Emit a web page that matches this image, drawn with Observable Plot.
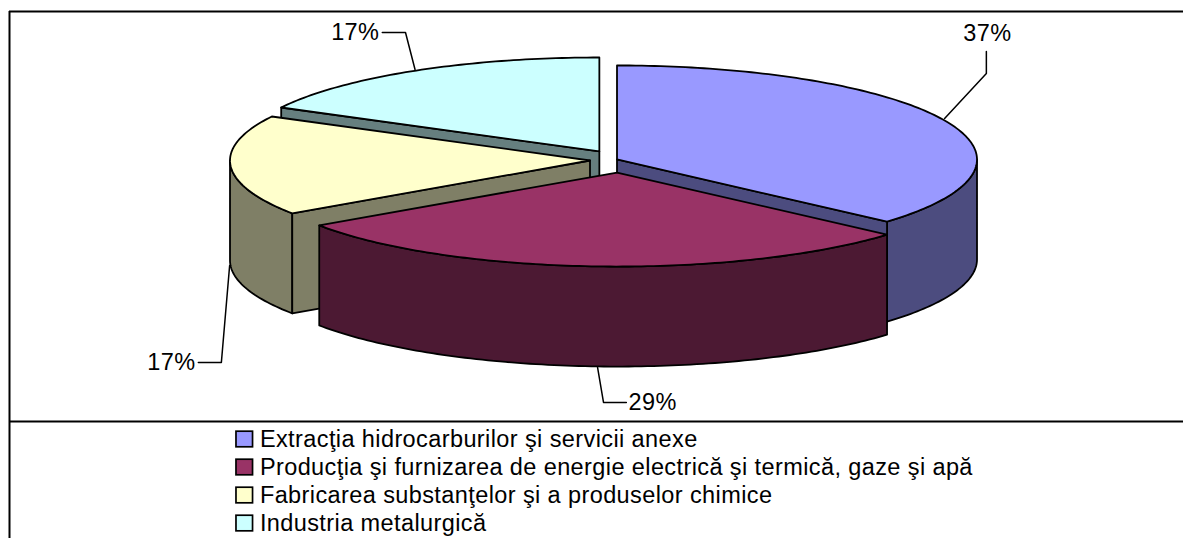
<!DOCTYPE html>
<html><head><meta charset="utf-8">
<script src="https://cdn.jsdelivr.net/npm/d3@7"></script>
<script src="https://cdn.jsdelivr.net/npm/@observablehq/plot@0.6"></script>
<style>html,body{margin:0;padding:0;background:#fff}svg{display:block}</style>
</head><body><div id="chart"></div>
<script>
const categories = ["Extracţia hidrocarburilor şi servicii anexe","Producţia şi furnizarea de energie electrică şi termică, gaze şi apă","Fabricarea substanţelor şi a produselor chimice","Industria metalurgică"];
const shares = [36.5, 29, 17.25, 17.25];
const shareLabels = ["37%","29%","17%","17%"];
const topColors = ["#9999FF","#993366","#FFFFCC","#CCFFFF"];
const sideColors = ["#4C4C7F","#4C1933","#7F7F66","#667F7F"];
const explodeX = [0, 0, -0.075, -0.049];
const explodeY = [-0.011, 0.128, 0, -0.096];
const depth = 1.064;
const labelX = [1.029, 0.032, -1.171, -0.66];
const labelY = [-1.351, 2.574, 2.149, -1.362];
const labelAnchor = ["middle","start","end","end"];
const leaderX = [[0.910,1.026,1.026],[-0.054,-0.0375,0.026],[-1.076,-1.099,-1.163],[-0.561,-0.5875,-0.652]];
const leaderY = [[-0.447,-0.926,-1.16],[2.202,2.574,2.574],[1.117,2.149,2.149],[-0.968,-1.362,-1.362]];
const legendRowY = [2.968,3.266,3.564,3.862];

const rad = d => d * Math.PI / 180;
let acc = 0;
const slices = shares.map((s, i) => {
  const a0 = acc * 3.6; acc += s; const a1 = acc * 3.6;
  return {i, a0, a1, cx: explodeX[i], cy: explodeY[i]};
});
const arc = (s, from, to, dy = 0) => {
  const n = Math.max(2, Math.ceil(Math.abs(to - from)));
  return d3.range(n + 1).map(k => {
    const a = rad(from + (to - from) * k / n);
    return {x: s.cx + Math.sin(a), y: s.cy - Math.cos(a) + dy};
  });
};
const poly = (pts, fill) => Plot.line(pts, {x: "x", y: "y", fill, stroke: "#000", strokeWidth: 1.8, curve: "linear-closed", strokeLinejoin: "round"});
const apex = (s, dy = 0) => ({x: s.cx, y: s.cy + dy});
const radial = (s, a) => { const e = arc(s, a, a)[0]; return [apex(s), e, {x: e.x, y: e.y + depth}, apex(s, depth)]; };
const outer = (s, from, to) => [...arc(s, from, to), ...arc(s, to, from, depth)];
const topFace = s => [apex(s), ...arc(s, s.a0, s.a1)];

const [blue, red, yellow, cyan] = slices;
const fw = {fontFamily: "Liberation Sans, Arial, sans-serif"};
const marks = [
  poly(radial(cyan, cyan.a0), sideColors[3]), poly(topFace(cyan), topColors[3]),
  poly(outer(yellow, yellow.a0, 270), sideColors[2]), poly(radial(yellow, yellow.a0), sideColors[2]), poly(topFace(yellow), topColors[2]),
  poly(outer(blue, 90, blue.a1), sideColors[0]), poly(radial(blue, blue.a1), sideColors[0]), poly(topFace(blue), topColors[0]),
  poly(outer(red, red.a0, red.a1), sideColors[1]), poly(topFace(red), topColors[1]),
  ...leaderX.map((xs, i) => Plot.line(xs.map((x, k) => ({x, y: leaderY[i][k]})), {x: "x", y: "y", stroke: "#000", strokeWidth: 1.5})),
  ...shareLabels.map((t, i) => Plot.text([t], {x: () => labelX[i], y: () => labelY[i], text: d => d, textAnchor: labelAnchor[i], fontSize: 23.5, fill: "#000", ...fw})),
  Plot.ruleY([-1.585, 2.777], {x1: -1.6875, x2: 1.574, stroke: "#000", strokeWidth: 2}),
  Plot.ruleX([-1.6875], {y1: -1.585, y2: 4.03, stroke: "#000", strokeWidth: 2}),
  Plot.rect(categories, {x1: () => -1.057, x2: () => -1.011, y1: (d, i) => legendRowY[i] - 0.083, y2: (d, i) => legendRowY[i] + 0.083, fill: (d, i) => topColors[i], stroke: "#000", strokeWidth: 1.7}),
  Plot.text(categories, {x: () => -0.992, y: (d, i) => legendRowY[i], text: d => d, textAnchor: "start", fontSize: 23.5, fill: "#000", ...fw})
];
document.getElementById("chart").append(Plot.plot({
  width: 1183, height: 538, margin: 0, axis: null,
  x: {domain: [-616.5 / 360, (1183 - 616.5) / 360], range: [0, 1183]},
  y: {domain: [-160 / 94, (538 - 160) / 94], range: [0, 538]},
  style: {background: "#fff", letterSpacing: "0.4px"},
  marks
}));
</script></body></html>
